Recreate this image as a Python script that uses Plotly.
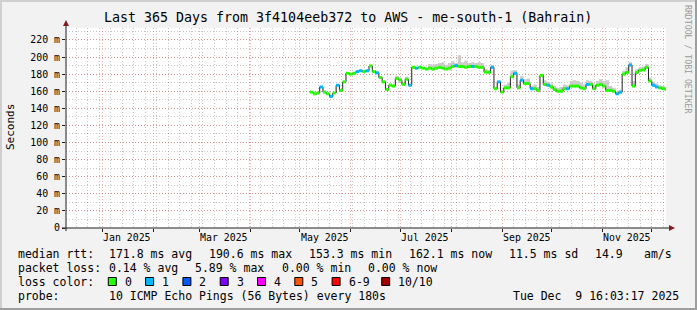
import plotly.graph_objects as go
import pandas as pd

# ---------------- data ----------------
title = "Last 365 Days from 3f4104eeb372 to AWS - me-south-1 (Bahrain)"
range_start = "2024-12-09 16:03:17"
range_end = "2025-12-09 16:03:17"
first_sample = "2025-05-07"
sample_step = "2D"

median_ms = [
    159, 157, 158, 165, 159, 157, 154, 158, 167, 161,
    171, 181, 180, 181, 183, 184, 183, 184, 189.6, 183,
    181.5, 176, 171, 162, 167, 166, 175, 173, 168, 174,
    167, 188, 187, 188, 187, 186, 187, 186, 187, 188,
    187, 186, 187, 189, 190, 189, 189, 188, 189, 189,
    189, 188, 188, 182.5, 182, 188, 163, 171, 159, 164,
    164, 177, 181, 164, 173, 169, 169, 163, 163, 161,
    178.6, 168, 167, 165, 162, 160, 160, 163, 163, 166,
    166, 166, 164, 163, 168, 168, 163, 167, 168, 166,
    161, 161, 160, 157, 159, 180, 182, 190.6, 166, 182,
    184.5, 185, 188, 172, 167, 165, 164, 163, 162.1,
]
loss_level = [
    0, 0, 0, 1, 0, 0, 1, 0, 1, 0,
    0, 0, 0, 0, 1, 1, 0, 1, 0, 0,
    1, 0, 0, 0, 0, 0, 0, 0, 0, 0,
    1, 0, 1, 0, 0, 0, 0, 0, 0, 0,
    0, 0, 0, 0, 1, 0, 0, 0, 0, 1,
    0, 0, 0, 0, 0, 1, 0, 1, 0, 0,
    0, 0, 1, 0, 1, 0, 0, 1, 0, 0,
    0, 0, 1, 0, 0, 0, 0, 0, 1, 0,
    0, 0, 0, 0, 1, 0, 0, 0, 0, 0,
    0, 0, 0, 1, 1, 0, 0, 1, 0, 0,
    0, 0, 0, 0, 1, 1, 0, 0, 0,
]
smoke_top_ms = [
    160, 158, 159, 166, 160, 158, 156, 159, 168, 162,
    172, 182, 181, 182, 184, 185, 184, 185, 191, 184,
    183, 177, 172, 164, 169, 168, 178, 176, 171, 177,
    169, 189, 188, 189, 188, 187, 192, 191, 192, 193,
    194, 191, 193, 195, 193, 202, 194, 196, 193, 194,
    193, 194, 193, 186, 185, 191, 165, 172, 161, 168,
    170, 184, 185, 168, 178, 174, 175, 166, 168, 165,
    180, 173, 171, 169, 166, 164, 165, 168, 167, 172,
    173, 172, 170, 168, 173, 172, 168, 172, 174, 172,
    173, 166, 164, 159, 161, 184, 188, 194, 172, 186,
    188, 189, 192, 176, 171, 169, 167, 166, 165,
]

y_tick_values = [0, 20, 40, 60, 80, 100, 120, 140, 160, 180, 200, 220]
y_tick_text = ["0", "20 m", "40 m", "60 m", "80 m", "100 m", "120 m",
               "140 m", "160 m", "180 m", "200 m", "220 m"]
x_label_months = ["2025-01-01", "2025-03-01", "2025-05-01",
                  "2025-07-01", "2025-09-01", "2025-11-01"]
x_label_text = ["Jan 2025", "Mar 2025", "May 2025", "Jul 2025", "Sep 2025", "Nov 2025"]

rtt_label = "median rtt:"
rtt_items = ["171.8 ms avg", "190.6 ms max", "153.3 ms min", "162.1 ms now",
             "11.5 ms sd", "14.9", "am/s"]
loss_label = "packet loss:"
loss_items = ["0.14 % avg", "5.89 % max", "0.00 % min", "0.00 % now"]
color_label = "loss color:"
loss_names = ["0", "1", "2", "3", "4", "5", "6-9", "10/10"]
loss_colors = ["#26ff00", "#00b8ff", "#0059ff", "#7e00ff",
               "#ff00ff", "#ff5500", "#ff0000", "#a10000"]
probe_label = "probe:"
probe_text = "10 ICMP Echo Pings (56 Bytes) every 180s"
stamp_text = "Tue Dec  9 16:03:17 2025"
y_title = "Seconds"
watermark = "RRDTOOL / TOBI OETIKER"

# ---------------- layout geometry ----------------
FW, FH = 697, 310
L, R, T, B = 66, 666, 28, 228
W, H = R - L, B - T
MONO = "DejaVu Sans Mono"


def px(x):
    return (x - L) / W


def py(y):
    return (B - y) / H


def nb(s):
    return s.replace(" ", "\u00a0")


dates = pd.date_range(first_sample, periods=len(median_ms), freq=sample_step)
dates_ext = list(dates) + [pd.Timestamp(range_end)]
med_ext = median_ms + [median_ms[-1]]
top_ext = smoke_top_ms + [smoke_top_ms[-1]]

fig = go.Figure()

# smoke
fig.add_trace(go.Scatter(x=dates_ext, y=med_ext, mode="lines",
                         line=dict(width=0, shape="hv"), hoverinfo="skip",
                         showlegend=False))
fig.add_trace(go.Scatter(x=dates_ext, y=top_ext, mode="lines",
                         line=dict(width=0, shape="hv"), fill="tonexty",
                         fillcolor="#cccccc", hoverinfo="skip", showlegend=False))
# median black
fig.add_trace(go.Scatter(x=dates_ext, y=med_ext, mode="lines",
                         line=dict(width=1, color="#202020", shape="hv"),
                         hoverinfo="skip", showlegend=False))
# loss-coloured median segments
for lvl, col in enumerate(loss_colors):
    xs, ys = [], []
    for i, lv in enumerate(loss_level):
        if lv == lvl:
            xs += [dates_ext[i], dates_ext[i + 1], None]
            ys += [median_ms[i], median_ms[i], None]
    if xs:
        fig.add_trace(go.Scatter(x=xs, y=ys, mode="lines",
                                 line=dict(width=3, color=col),
                                 hoverinfo="skip", showlegend=False))

GRID = "rgba(143,143,143,0.5)"
MGRID = "rgba(222,79,79,0.45)"

fig.update_layout(
    width=FW, height=FH,
    margin=dict(l=L, r=FW - R, t=T, b=FH - B, pad=0),
    paper_bgcolor="#f2f2f2", plot_bgcolor="#ffffff",
    showlegend=False,
    font=dict(family=MONO, color="#000000"),
    xaxis=dict(
        range=[range_start, range_end], type="date",
        showgrid=True, gridcolor=MGRID, griddash="1px,2px", gridwidth=1,
        tick0="2025-01-01", dtick="M1",
        showticklabels=False, ticks="outside", ticklen=3, tickcolor="#1f1f1f",
        minor=dict(showgrid=True, gridcolor=GRID, griddash="1px,2px",
                   tick0="2024-12-09", dtick=7 * 86400000),
        zeroline=False, showline=False, fixedrange=True,
    ),
    yaxis=dict(
        range=[0, 234],
        tickvals=y_tick_values, ticktext=y_tick_text,
        showgrid=True, gridcolor=MGRID, griddash="1px,2px", gridwidth=1,
        minor=dict(showgrid=True, gridcolor=GRID, griddash="1px,2px", dtick=10),
        ticks="outside", ticklen=3, tickcolor="#1f1f1f",
        tickfont=dict(family=MONO, size=9.9, color="#000000"),
        zeroline=False, showline=False, fixedrange=True,
    ),
)

shapes = []
# frame
shapes.append(dict(type="rect", xref="paper", yref="paper", x0=px(0), x1=px(FW), y0=py(0), y1=py(2),
                   fillcolor="#cfcfcf", line=dict(width=0), layer="below"))
shapes.append(dict(type="rect", xref="paper", yref="paper", x0=px(0), x1=px(2), y0=py(0), y1=py(FH),
                   fillcolor="#cfcfcf", line=dict(width=0), layer="below"))
shapes.append(dict(type="rect", xref="paper", yref="paper", x0=px(0), x1=px(FW), y0=py(FH - 2), y1=py(FH),
                   fillcolor="#9e9e9e", line=dict(width=0), layer="below"))
shapes.append(dict(type="rect", xref="paper", yref="paper", x0=px(FW - 2), x1=px(FW), y0=py(0), y1=py(FH),
                   fillcolor="#9e9e9e", line=dict(width=0), layer="below"))
# axes
shapes.append(dict(type="line", xref="paper", yref="paper", x0=px(62), x1=px(669), y0=0, y1=0,
                   line=dict(color="#1f1f1f", width=1)))
shapes.append(dict(type="line", xref="paper", yref="paper", x0=0, x1=0, y0=py(231), y1=py(24),
                   line=dict(color="#1f1f1f", width=1)))
shapes.append(dict(type="path", xref="paper", yref="paper",
                   path=f"M {px(669)} {py(225)} L {px(675)} {py(228)} L {px(669)} {py(231)} Z",
                   fillcolor="#801f1f", line=dict(width=0)))
shapes.append(dict(type="path", xref="paper", yref="paper",
                   path=f"M {px(63)} {py(26)} L {px(66)} {py(20)} L {px(69)} {py(26)} Z",
                   fillcolor="#801f1f", line=dict(width=0)))

annotations = []


def ann(text, x, y, size=11.5, anchor="left", color="#000000", angle=0, xref="paper"):
    annotations.append(dict(text=nb(text), x=px(x) if xref == "paper" else x, y=py(y),
                            xref=xref, yref="paper", xanchor=anchor, yanchor="middle",
                            showarrow=False, textangle=angle,
                            font=dict(family=MONO, size=size, color=color)))


ann(title, 348, 18, size=13.3, anchor="center")
ann(y_title, 10, 127, size=11, anchor="center", angle=-90)
ann(watermark, 688, 59, size=8.2, anchor="center", angle=90, color="#9a9a9a")

for m, t in zip(x_label_months, x_label_text):
    xd = pd.Timestamp(m) + pd.Timedelta(days=15)
    annotations.append(dict(text=t, x=xd, y=py(237.5), xref="x", yref="paper",
                            xanchor="center", yanchor="middle", showarrow=False,
                            font=dict(family=MONO, size=9.9, color="#000000")))

row_y = [254, 268, 282, 296]
ann(rtt_label, 16, row_y[0])
for t, x in zip(rtt_items, [107.3, 207.3, 307.3, 407.3, 507.3, 593.3, 642.3]):
    ann(t, x, row_y[0])
ann(loss_label, 16, row_y[1])
for t, x in zip(loss_items, [107.3, 193.4, 279.5, 365.6]):
    ann(t, x, row_y[1])
ann(color_label, 16, row_y[2])
box_x = [108.3 + 37.3 * i for i in range(7)] + [381.7]
for name, col, bx in zip(loss_names, loss_colors, box_x):
    shapes.append(dict(type="rect", xref="paper", yref="paper",
                       x0=px(bx), x1=px(bx + 8), y0=py(277.5), y1=py(285.5),
                       fillcolor=col, line=dict(color="#000000", width=1)))
    ann(name, bx + 14.5, row_y[2])
ann(probe_label, 16, row_y[3])
ann(probe_text, 107.3, row_y[3])
ann(stamp_text, 681, row_y[3], anchor="right")

fig.update_layout(shapes=shapes, annotations=annotations)
fig.write_html("out.html")
